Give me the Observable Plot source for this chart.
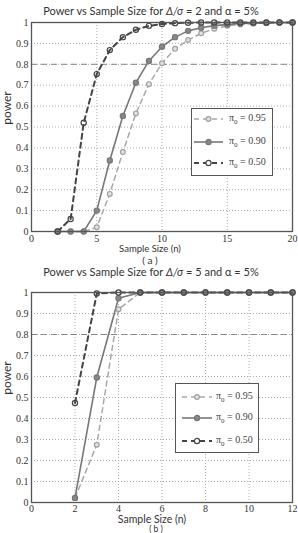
<!DOCTYPE html>
<html><head><meta charset="utf-8">
<script src="https://cdn.jsdelivr.net/npm/d3@7"></script>
<script src="https://cdn.jsdelivr.net/npm/@observablehq/plot@0.6"></script>
<style>
body{margin:0;background:#fff;}
#root{position:relative;width:298px;height:533px;overflow:hidden;font-family:Lato,"Open Sans",sans-serif;color:#333;}
.t{position:absolute;white-space:nowrap;transform:translate(-50%,-50%);line-height:1;}
.leg{position:absolute;background:#fff;border:1px solid #555;box-sizing:border-box;}
.leg .row{position:absolute;left:0;height:14px;transform:translateY(-50%);display:flex;align-items:center;}
.leg .lab{font-family:"Liberation Serif",serif;font-size:10px;color:#444;white-space:nowrap;}
svg.plot{position:absolute;left:0;}
</style></head><body><div id="root"></div>
<script>
// ---- data ----
const nA = [2,3,4,5,6,7,8,9,10,11,12,13,14,15,16,17,18,19,20];
const powerA95 = [0,0,0,0.02,0.18,0.38,0.565,0.705,0.805,0.874,0.916,0.948,0.97,0.984,0.99,0.995,0.998,0.999,1];
const powerA90 = [0,0,0,0.10,0.34,0.553,0.712,0.816,0.884,0.93,0.96,0.975,0.985,0.99,0.995,0.997,0.999,1,1];
const powerA50 = [0,0.06,0.52,0.753,0.868,0.93,0.965,0.984,0.993,0.997,0.999,1,1,1,1,1,1,1,1];
const nB = [2,3,4,5,6,7,8,9,10,11,12];
const powerB95 = [0.022,0.275,0.92,1,1,1,1,1,1,1,1];
const powerB90 = [0.022,0.595,0.973,1,1,1,1,1,1,1,1];
const powerB50 = [0.474,0.995,1,1,1,1,1,1,1,1,1];
const xTicksA = [0,5,10,15,20];
const xTicksB = [0,2,4,6,8,10,12];
const yTicks = [0,0.1,0.2,0.3,0.4,0.5,0.6,0.7,0.8,0.9,1];
const piLabels = ["0.95","0.90","0.50"];
const titleA = "Power vs Sample Size for ";
const titleB = "Power vs Sample Size for ";
const deltaA = "2", deltaB = "5";
const xLabel = "Sample Size (n)";
const yLabel = "power";
const captions = ["( a )","( b )"];

// ---- styles per series ----
const styles = [
  {stroke:"#a8a8a8", width:1.5, dash:"5,4", dotFill:"#e2e2e2", dotStroke:"#a0a0a0", r:2.4},
  {stroke:"#777", width:1.6, dash:null, dotFill:"#888", dotStroke:"#777", r:2.6},
  {stroke:"#444", width:2, dash:"5,4", dotFill:"none", dotStroke:"#444", r:2.6}
];

const root = document.getElementById("root");

function makeChart(n, vals, xDomain, xTicks, top, height, mb, pad) {
  const marks = [
    Plot.gridX(xTicks, {stroke:"#999", strokeOpacity:1, strokeDasharray:"1,2", strokeWidth:0.8}),
    Plot.gridY(yTicks, {stroke:"#999", strokeOpacity:1, strokeDasharray:"1,2", strokeWidth:0.8}),
    Plot.ruleY([0.8], {stroke:"#888", strokeDasharray:"6,4", strokeWidth:1})
  ];
  vals.forEach((v, k) => {
    const s = styles[k];
    const d = n.map((x, i) => ({n:x, p:v[i]}));
    marks.push(Plot.line(d, {x:"n", y:"p", stroke:s.stroke, strokeWidth:s.width, strokeDasharray:s.dash || undefined}));
  });
  vals.forEach((v, k) => {
    const s = styles[k];
    const d = n.map((x, i) => ({n:x, p:v[i]}));
    marks.push(Plot.dot(d, {x:"n", y:"p", r:s.r, fill:s.dotFill, stroke:s.dotStroke, strokeWidth:1.2}));
  });
  marks.push(Plot.frame({stroke:"#555", strokeWidth:1.3}));
  marks.push(Plot.axisX(xTicks, {tickSize:0, tickPadding:pad, label:null, tickFormat:d=>String(d)}));
  marks.push(Plot.axisY(yTicks, {tickSize:0, tickPadding:3, label:null, tickFormat:d=>String(d)}));
  const svg = Plot.plot({
    width:298, height:height,
    marginLeft:31, marginRight:6, marginTop:22, marginBottom:mb,
    x:{domain:xDomain}, y:{domain:[0,1]},
    style:{fontFamily:"Liberation Serif, serif", fontSize:"10px", color:"#333", background:"transparent", overflow:"visible"},
    marks
  });
  svg.classList.add("plot");
  svg.style.top = top + "px";
  root.appendChild(svg);
}

function text(html, x, y, size, extra) {
  const d = document.createElement("div");
  d.className = "t";
  d.style.left = x + "px"; d.style.top = y + "px"; d.style.fontSize = size + "px";
  if (extra) Object.assign(d.style, extra);
  d.innerHTML = html;
  root.appendChild(d);
}

function legend(left, top, w, h, rowsY, sampleX0, sampleX1, textX) {
  const box = document.createElement("div");
  box.className = "leg";
  Object.assign(box.style, {left:left+"px", top:top+"px", width:w+"px", height:h+"px"});
  piLabels.forEach((lab, k) => {
    const s = styles[k];
    const row = document.createElement("div");
    row.className = "row";
    row.style.top = rowsY[k] + "px";
    const mid = (sampleX1 - sampleX0) / 2;
    row.innerHTML =
      `<svg width="${textX}" height="14" style="flex:none"><line x1="${sampleX0}" x2="${sampleX1}" y1="7" y2="7" stroke="${s.stroke}" stroke-width="${s.width}" ${s.dash ? `stroke-dasharray="${s.dash}"` : ""}/>` +
      `<circle cx="${sampleX0+mid}" cy="7" r="${s.r}" fill="${s.dotFill === "none" ? "#fff" : s.dotFill}" stroke="${s.dotStroke}" stroke-width="1.2"/></svg>` +
      `<span class="lab">&pi;<sub style="font-size:7px">0</sub> = ${lab}</span>`;
    box.appendChild(row);
  });
  root.appendChild(box);
}

makeChart(nA, [powerA95, powerA90, powerA50], [0,20], xTicksA, 0, 243, 12, 3);
makeChart(nB, [powerB95, powerB90, powerB50], [0,12], xTicksB, 270, 246, 14, 2);

text(`${titleA}<i>&Delta;/&sigma;</i> = ${deltaA} and &alpha; = 5%`, 151, 10, 11);
text(`${titleB}<i>&Delta;/&sigma;</i> = ${deltaB} and &alpha; = 5%`, 151, 270.5, 11);
text(xLabel, 150, 248.5, 9.5);
text(xLabel, 152, 519, 10.5);
text(captions[0], 150, 259.5, 10);
text(captions[1], 156, 529, 8.5);
text(yLabel, 7, 108, 12, {transform:"translate(-50%,-50%) rotate(-90deg)"});
text(yLabel, 7, 378, 12, {transform:"translate(-50%,-50%) rotate(-90deg)"});

legend(191, 108, 82, 68, [10, 33, 54], 2, 31, 37);
legend(175, 383, 84, 70, [13, 34, 57], 6, 36, 40);
</script></body></html>
